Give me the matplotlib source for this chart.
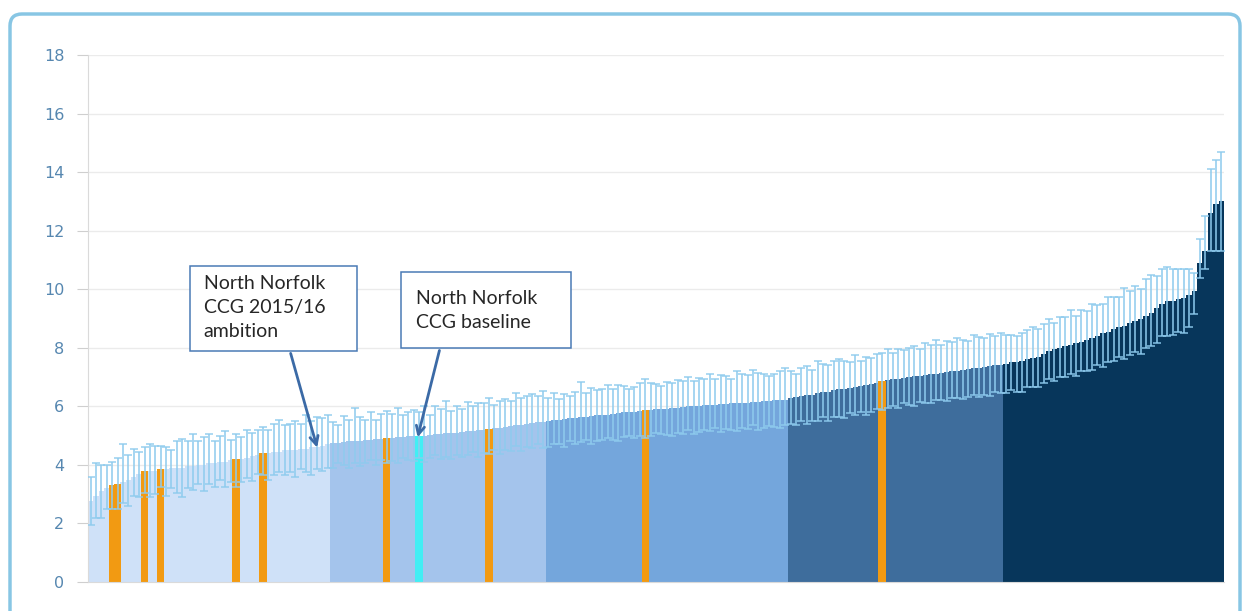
import numpy as np
import matplotlib
matplotlib.use("Agg")
import matplotlib.pyplot as plt
from matplotlib.patches import Rectangle, FancyBboxPatch
from matplotlib.transforms import IdentityTransform

# CCG values sorted low -> high, split into five bands
band1 = [2.75, 2.95, 3.1, 3.2, 3.3, 3.35, 3.4, 3.5, 3.6, 3.7, 3.8, 3.8, 3.8, 3.85, 3.85,
         3.9, 3.9, 3.9, 3.95, 3.95, 4.0, 4.0, 4.05, 4.05, 4.1, 4.1, 4.15, 4.2, 4.2, 4.25,
         4.3, 4.35, 4.4, 4.4, 4.45, 4.45, 4.5, 4.5, 4.5, 4.55, 4.55, 4.6, 4.6, 4.65, 4.7]
band2 = [4.75, 4.75, 4.78, 4.8, 4.8, 4.82, 4.85, 4.85, 4.88, 4.9, 4.93, 4.93, 4.95, 4.95,
         4.97, 4.98, 5.0, 5.0, 5.02, 5.05, 5.05, 5.08, 5.1, 5.1, 5.12, 5.15, 5.15, 5.18,
         5.2, 5.22, 5.25, 5.27, 5.3, 5.32, 5.35, 5.37, 5.4, 5.42, 5.45, 5.48]
band3 = [5.5, 5.52, 5.55, 5.57, 5.6, 5.6, 5.62, 5.65, 5.67, 5.7, 5.7, 5.72, 5.75, 5.77,
         5.8, 5.8, 5.82, 5.85, 5.87, 5.88, 5.9, 5.9, 5.92, 5.95, 5.95, 5.97, 6.0, 6.0,
         6.02, 6.03, 6.05, 6.05, 6.07, 6.08, 6.1, 6.1, 6.12, 6.13, 6.15, 6.15, 6.17, 6.18,
         6.2, 6.2, 6.22]
band4 = [6.3, 6.32, 6.35, 6.38, 6.4, 6.45, 6.48, 6.5, 6.55, 6.58, 6.6, 6.63, 6.65, 6.7,
         6.72, 6.75, 6.8, 6.88, 6.9, 6.92, 6.95, 6.97, 7.0, 7.02, 7.05, 7.07, 7.1, 7.12,
         7.15, 7.17, 7.2, 7.22, 7.25, 7.27, 7.3, 7.32, 7.35, 7.37, 7.4, 7.42]
band5 = [7.45, 7.5, 7.5, 7.55, 7.6, 7.65, 7.7, 7.8, 7.9, 7.95, 8.0, 8.05, 8.1, 8.15, 8.2,
         8.25, 8.35, 8.4, 8.5, 8.55, 8.65, 8.7, 8.75, 8.85, 8.9, 9.0, 9.1, 9.2, 9.35, 9.5,
         9.6, 9.6, 9.65, 9.7, 9.8, 9.95, 10.9, 11.3, 12.6, 12.9, 13.0]

# distance from value to upper / lower confidence limit
err_hi = [0.85, 1.1, 0.9, 0.8, 0.8, 0.9, 1.3, 0.85, 0.95, 0.75, 0.8, 0.9, 0.85, 0.8, 0.75,
          0.6, 0.9, 1.0, 0.85, 1.1, 0.8, 0.95, 1.0, 0.75, 0.9, 1.05, 0.7, 0.85, 0.75, 0.95,
          0.8, 0.85, 0.9, 0.8, 0.95, 1.1, 0.85, 0.9, 1.0, 0.85, 1.15, 0.9, 1.05, 0.95, 1.0,
          0.7, 0.6, 0.9, 0.75, 1.15, 0.8, 0.7, 0.95, 0.65, 0.85, 0.9, 0.8, 1.0, 0.75, 0.85,
          0.9, 0.8, 1.0, 0.7, 0.95, 0.85, 1.1, 0.75, 0.9, 0.8, 1.0, 0.85, 0.95, 0.9, 1.05,
          0.8, 0.9, 0.95, 0.85, 1.1, 0.9, 0.95, 1.0, 0.9, 1.05,
          0.8, 0.95, 0.7, 0.85, 0.75, 0.9, 1.2, 0.8, 0.95, 0.85, 0.9, 1.0, 0.85, 0.95, 0.9,
          0.8, 0.85, 0.95, 1.05, 0.9, 0.85, 0.8, 0.9, 0.85, 0.95, 0.9, 1.0, 0.85, 0.95, 0.9,
          1.05, 0.9, 1.0, 0.95, 0.85, 1.1, 1.0, 0.95, 1.1, 1.0, 0.95, 0.85, 0.9, 1.0, 1.1,
          0.9, 0.8, 0.95, 1.0, 0.85, 1.1, 0.95, 0.9, 1.0, 1.05, 0.95, 0.9, 1.1, 0.85, 0.95,
          0.9, 1.0, 0.95, 1.05, 0.9, 1.0, 0.95, 1.0, 1.05, 0.9, 1.1, 1.0, 1.15, 0.95, 1.05,
          1.0, 1.1, 1.0, 0.95, 1.15, 1.05, 1.0, 1.1, 1.0, 1.1,
          1.0, 0.95, 0.9, 0.95, 1.0, 1.05, 0.95, 1.0, 1.1, 0.9, 1.05, 1.0, 1.2, 0.95, 1.1,
          1.0, 1.15, 1.05, 1.0, 1.2, 1.1, 1.05, 1.3, 1.1, 1.2, 1.0, 1.25, 1.3, 1.1, 1.2,
          1.15, 1.1, 1.05, 1.0, 0.9, 0.6, 0.8, 1.2, 1.5, 1.5, 1.7]
err_lo = [0.8, 0.75, 0.9, 0.7, 0.8, 0.85, 0.7, 0.9, 0.65, 0.8, 0.75, 0.9, 0.8, 0.6, 0.9,
          0.7, 0.85, 1.0, 0.75, 0.8, 0.65, 0.9, 0.7, 0.8, 0.6, 0.85, 0.75, 0.95, 0.8, 0.7,
          0.85, 0.65, 0.75, 0.9, 0.8, 0.7, 0.85, 0.75, 0.9, 0.7, 0.8, 0.95, 0.75, 0.85, 0.8,
          0.85, 0.7, 0.8, 0.9, 0.75, 0.85, 0.8, 0.7, 0.9, 0.75, 0.85, 0.8, 0.9, 0.7, 0.8,
          0.85, 0.75, 0.9, 0.8, 0.7, 0.85, 0.8, 0.9, 0.75, 0.85, 0.8, 0.7, 0.9, 0.8, 0.85,
          0.75, 0.9, 0.8, 0.85, 0.7, 0.9, 0.8, 0.85, 0.75, 0.9,
          0.9, 0.8, 0.85, 0.95, 0.8, 0.9, 0.85, 0.8, 0.95, 0.9, 0.85, 0.8, 0.9, 0.95, 0.85,
          0.8, 0.9, 0.85, 0.95, 0.9, 0.8, 0.85, 0.9, 0.95, 0.85, 0.9, 0.8, 0.95, 0.9, 0.85,
          0.9, 0.8, 0.95, 0.85, 0.9, 0.95, 0.85, 0.9, 0.8, 0.95, 0.9, 0.85, 0.9, 0.95, 0.85,
          0.9, 0.95, 0.85, 1.0, 0.9, 0.95, 0.85, 1.0, 0.9, 0.95, 1.0, 0.85, 0.95, 0.9, 1.0,
          0.95, 0.9, 1.0, 0.95, 0.9, 1.0, 0.85, 0.95, 1.0, 0.9, 0.95, 1.0, 0.9, 0.95, 1.0,
          0.9, 0.95, 1.0, 0.95, 0.9, 1.0, 0.95, 1.0, 0.9, 0.95,
          1.0, 0.95, 1.0, 1.05, 0.95, 1.0, 1.05, 1.0, 0.95, 1.1, 1.0, 1.05, 1.0, 1.1, 1.0,
          1.05, 1.1, 1.0, 1.15, 1.05, 1.1, 1.0, 1.15, 1.1, 1.05, 1.2, 1.1, 1.15, 1.2, 1.1,
          1.2, 1.15, 1.1, 1.2, 1.1, 0.8, 0.5, 0.6, 1.3, 1.6, 1.7]

# highlighted CCGs (positions in the sorted list)
peer_idx = [4, 5, 10, 13, 27, 32, 55, 74, 103, 147]
baseline_idx = 61

band_colors = ["#cfe1f8", "#a4c4ec", "#74a6dc", "#3e6d9c", "#07365b"]
yticks = [0, 2, 4, 6, 8, 10, 12, 14, 16, 18]

bands = [band1, band2, band3, band4, band5]
values = np.concatenate(bands)
x = np.arange(len(values))
colors = []
for b, c in zip(bands, band_colors):
    colors += [c] * len(b)

fig = plt.figure(figsize=(12.49, 6.11), dpi=100)
ax = fig.add_axes([88 / 1249, 29 / 611, 1136 / 1249, 527 / 611])

ax.bar(x, values, width=1.0, color=colors, linewidth=0, zorder=2)
ax.bar(peer_idx, values[peer_idx], width=1.35, color="#f29a12", linewidth=0, zorder=2.5)
ax.bar(baseline_idx, values[baseline_idx], width=1.35, color="#42eef4", linewidth=0, zorder=2.5)
ax.errorbar(x, values, yerr=[err_lo, err_hi], fmt="none", ecolor="#8ecbee",
            elinewidth=1.3, capsize=3.2, capthick=1.2, alpha=0.85, zorder=3)

ax.set_xlim(-0.5, len(values) - 0.5)
ax.set_ylim(0, 18)
ax.set_yticks(yticks)
ax.set_xticks([])
ax.grid(axis="y", color="#ebebeb", linewidth=1.0, zorder=0)
ax.set_axisbelow(True)
for s in ["top", "right"]:
    ax.spines[s].set_visible(False)
ax.spines["left"].set_color("#dadada")
ax.spines["bottom"].set_color("#dadada")
ax.tick_params(axis="y", length=8, color="#cfcfcf", pad=9, labelsize=11.5, labelcolor="#5687b0")

# call-out boxes
ax.add_patch(Rectangle((18.4, 7.9), 31.1, 2.9, facecolor="white", edgecolor="#4a7ab5",
                       linewidth=1.1, zorder=5))
ax.text(21.0, 10.48, "North Norfolk\nCCG 2015/16\nambition", fontsize=14, family="Lato",
        color="#262626", va="top", ha="left", linespacing=1.5, zorder=6)
ax.annotate("", xy=(42.2, 4.5), xytext=(37.0, 7.9),
            arrowprops=dict(arrowstyle="->,head_length=0.6,head_width=0.3",
                            color="#3b6aa6", lw=2.0), zorder=6)

ax.add_patch(Rectangle((57.6, 8.0), 31.6, 2.6, facecolor="white", edgecolor="#4a7ab5",
                       linewidth=1.1, zorder=5))
ax.text(60.4, 9.98, "North Norfolk\nCCG baseline", fontsize=14, family="Lato",
        color="#262626", va="top", ha="left", linespacing=1.5, zorder=6)
ax.annotate("", xy=(60.6, 4.85), xytext=(64.9, 8.0),
            arrowprops=dict(arrowstyle="->,head_length=0.6,head_width=0.3",
                            color="#3b6aa6", lw=2.0), zorder=6)

# rounded frame round the whole chart
frame = FancyBboxPatch((10, -20), 1230, 617, boxstyle="round,pad=0,rounding_size=12",
                       transform=IdentityTransform(), fill=False, edgecolor="#88c6e4",
                       linewidth=2.5)
fig.patches.append(frame)

fig.savefig("out.png", dpi=100)
